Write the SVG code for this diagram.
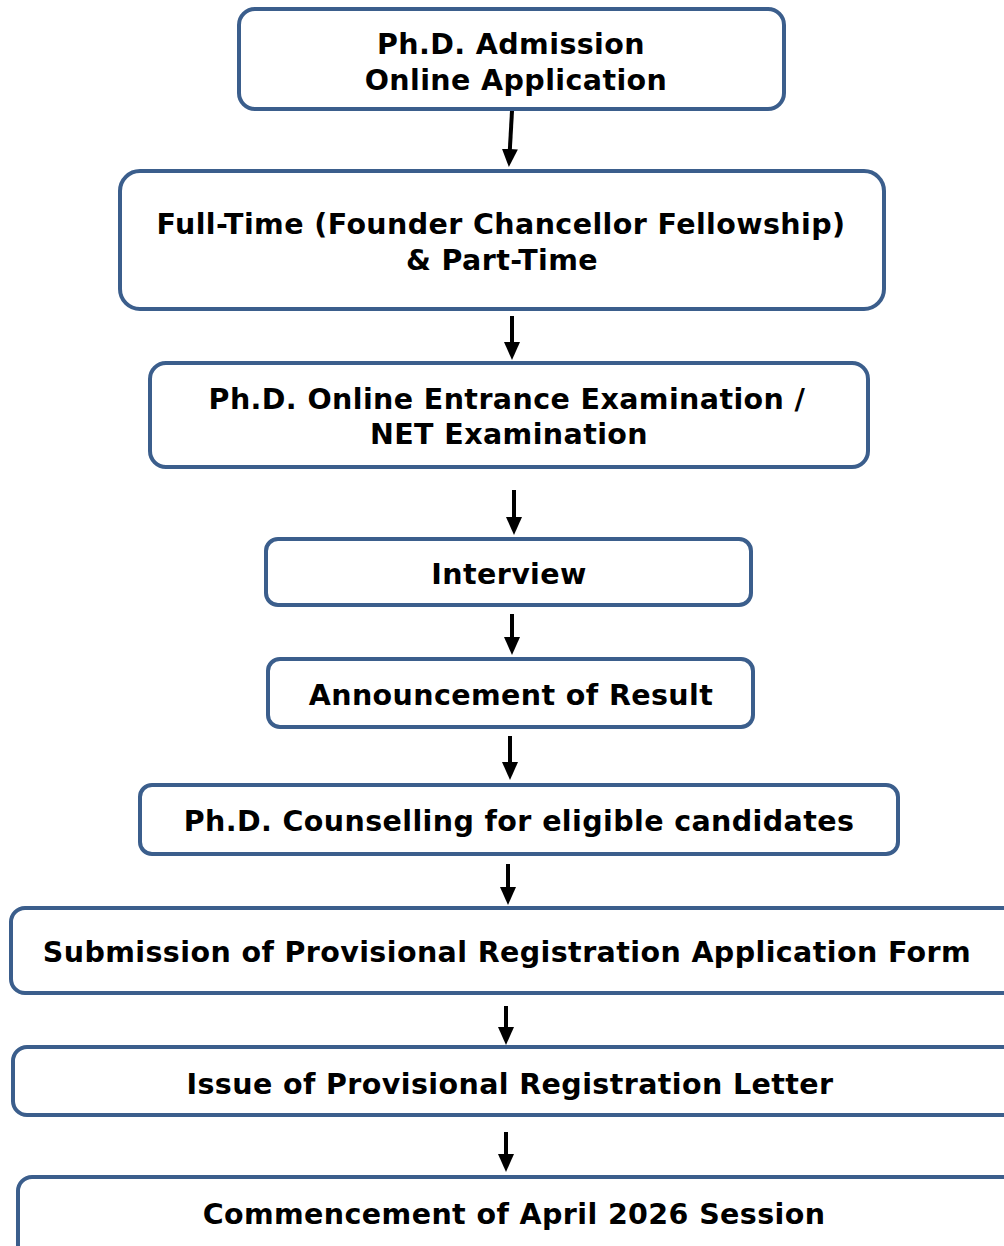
<svg xmlns="http://www.w3.org/2000/svg" width="1004" height="1246" viewBox="0 0 1004 1246">
<defs>
<style>
.box{fill:#fff;stroke:#3B5E8C;stroke-width:4}
.t{font-family:"DejaVu Sans",Verdana,sans-serif;font-weight:bold;font-size:28.5px;letter-spacing:0.4px;fill:#000;text-anchor:middle}
.c{stroke:#000;stroke-width:4;fill:none}
</style>
<marker id="ah" markerWidth="18" markerHeight="16" refX="12" refY="8" orient="auto" markerUnits="userSpaceOnUse">
<path d="M0,0 L18,8 L0,16 z" fill="#000"/>
</marker>
</defs>
<rect width="1004" height="1246" fill="#fff"/>
<g id="connectors">
<line class="c" x1="512" y1="111" x2="509.2" y2="161" marker-end="url(#ah)"/>
<line class="c" x1="512" y1="316" x2="512" y2="354" marker-end="url(#ah)"/>
<line class="c" x1="514" y1="490" x2="514" y2="529" marker-end="url(#ah)"/>
<line class="c" x1="512" y1="614" x2="512" y2="649" marker-end="url(#ah)"/>
<line class="c" x1="510" y1="736" x2="510" y2="774" marker-end="url(#ah)"/>
<line class="c" x1="508" y1="864" x2="508" y2="899" marker-end="url(#ah)"/>
<line class="c" x1="506" y1="1006" x2="506" y2="1039" marker-end="url(#ah)"/>
<line class="c" x1="506" y1="1132" x2="506" y2="1166" marker-end="url(#ah)"/>
</g>
<g id="n1"><rect class="box" x="239" y="9" width="545" height="100" rx="16"/>
<text class="t" x="511" y="54">Ph.D. Admission</text><text class="t" x="516" y="90">Online Application</text></g>
<g id="n2"><rect class="box" x="120" y="171" width="764" height="138" rx="20"/>
<text class="t" x="501" y="234" letter-spacing="0.55">Full-Time (Founder Chancellor Fellowship)</text><text class="t" x="502" y="270">&amp; Part-Time</text></g>
<g id="n3"><rect class="box" x="150" y="363" width="718" height="104" rx="16"/>
<text class="t" x="507" y="409">Ph.D. Online Entrance Examination /</text><text class="t" x="509" y="444">NET Examination</text></g>
<g id="n4"><rect class="box" x="266" y="539" width="485" height="66" rx="12"/>
<text class="t" x="509" y="584">Interview</text></g>
<g id="n5"><rect class="box" x="268" y="659" width="485" height="68" rx="12"/>
<text class="t" x="511" y="705">Announcement of Result</text></g>
<g id="n6"><rect class="box" x="140" y="785" width="758" height="69" rx="12"/>
<text class="t" x="519" y="831">Ph.D. Counselling for eligible candidates</text></g>
<g id="n7"><rect class="box" x="11" y="908" width="1010" height="85" rx="14"/>
<text class="t" x="507" y="962">Submission of Provisional Registration Application Form</text></g>
<g id="n8"><rect class="box" x="13" y="1047" width="1010" height="68" rx="14"/>
<text class="t" x="510" y="1094">Issue of Provisional Registration Letter</text></g>
<g id="n9"><rect class="box" x="18" y="1177" width="1010" height="90" rx="14"/>
<text class="t" x="514" y="1224">Commencement of April 2026 Session</text></g>
</svg>
